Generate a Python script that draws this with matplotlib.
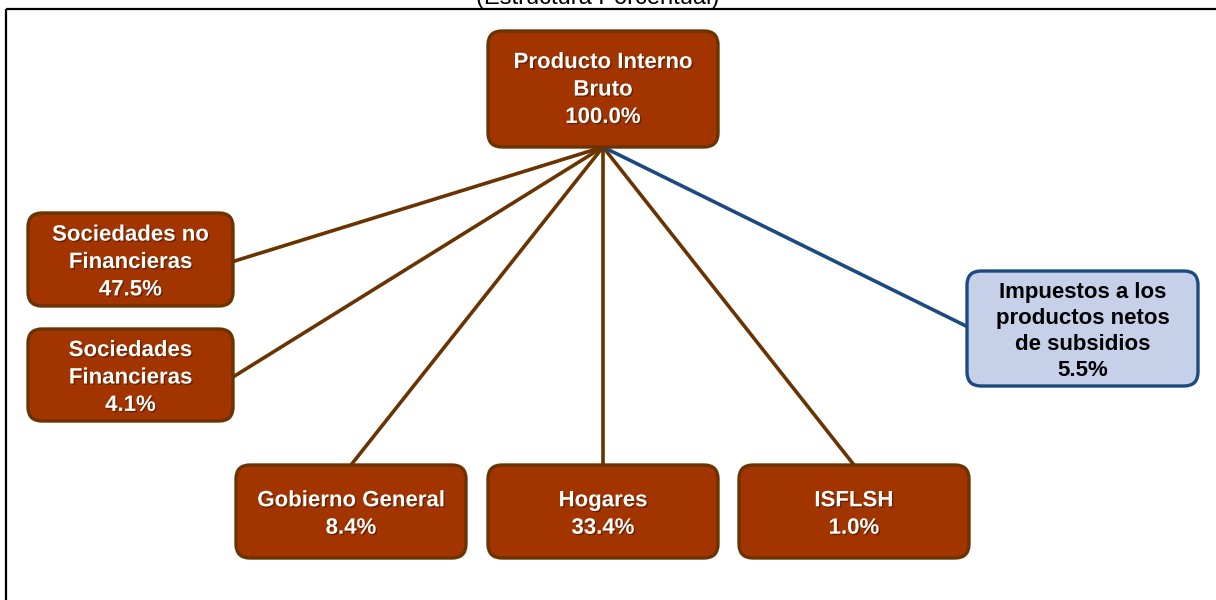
import matplotlib
matplotlib.use("Agg")
import matplotlib.pyplot as plt
from matplotlib.patches import FancyBboxPatch
import matplotlib.patheffects as pe

plt.rcParams["font.family"] = ["Liberation Sans", "DejaVu Sans"]

# Data
root_label = "Producto Interno\nBruto"
root_value = 100.0
labels = [
    "Sociedades no\nFinancieras",
    "Sociedades\nFinancieras",
    "Gobierno General",
    "Hogares",
    "ISFLSH",
    "Impuestos a los\nproductos netos\nde subsidios",
]
values = [47.5, 4.1, 8.4, 33.4, 1.0, 5.5]

# Layout (pixel coords: x0, y0, x1, y1), and where the connector attaches
boxes = [
    (28, 213, 233, 306),
    (28, 329, 233, 421),
    (236, 465, 466, 558),
    (488, 465, 718, 558),
    (739, 465, 969, 558),
    (967, 271, 1198, 386),
]
anchors = ["right", "right", "top", "top", "top", "left"]
root_box = (488, 31, 718, 147)

brown_fill = "#A23400"
brown_edge = "#6A3300"
blue_fill = "#C6D0E8"
blue_edge = "#1A4A80"

fig = plt.figure(figsize=(12.16, 6.0), dpi=100)
ax = fig.add_axes([0, 0, 1, 1])
ax.set_xlim(0, 1216)
ax.set_ylim(600, 0)
ax.axis("off")

# frame
ax.plot([6, 1216], [9, 9], color="black", lw=1.6, solid_capstyle="butt")
ax.plot([6, 6], [9, 600], color="black", lw=1.6, solid_capstyle="butt")

fig.text(598 / 1216, 1 - 4 / 600, "(Estructura Porcentual)", ha="center",
         va="baseline", fontsize=17)

rx = (root_box[0] + root_box[2]) / 2
ry = root_box[3]

# connectors
for i, (b, a) in enumerate(zip(boxes, anchors)):
    x0, y0, x1, y1 = b
    if a == "right":
        px, py = x1, (y0 + y1) / 2 + 2
    elif a == "left":
        px, py = x0, (y0 + y1) / 2 - 2
    else:
        px, py = (x0 + x1) / 2, y0
    col = blue_edge if i == len(boxes) - 1 else brown_edge
    ax.plot([rx, px], [ry, py], color=col, lw=2.6, zorder=1)


def draw_box(b, text, fill, edge, tcolor, ls=1.4, dy=3):
    x0, y0, x1, y1 = b
    patch = FancyBboxPatch((x0, y0), x1 - x0, y1 - y0,
                           boxstyle="round,pad=0,rounding_size=14",
                           fc=fill, ec=edge, lw=2.4, zorder=2)
    ax.add_patch(patch)
    fx = [pe.withSimplePatchShadow(offset=(1, -1), shadow_rgbFace="black",
                                   alpha=0.35)] if tcolor == "white" else []
    ax.text((x0 + x1) / 2, (y0 + y1) / 2 + dy, text, ha="center", va="center",
            fontsize=16, fontweight="bold", color=tcolor, linespacing=ls,
            zorder=3, path_effects=fx)


draw_box(root_box, f"{root_label}\n{root_value:.1f}%", brown_fill, brown_edge,
         "white", dy=1)
for i, (b, lab, v) in enumerate(zip(boxes, labels, values)):
    if i == len(boxes) - 1:
        draw_box(b, f"{lab}\n{v:.1f}%", blue_fill, blue_edge, "black",
                 ls=1.3, dy=3)
    else:
        draw_box(b, f"{lab}\n{v:.1f}%", brown_fill, brown_edge, "white")

fig.savefig("out.png", dpi=100)
